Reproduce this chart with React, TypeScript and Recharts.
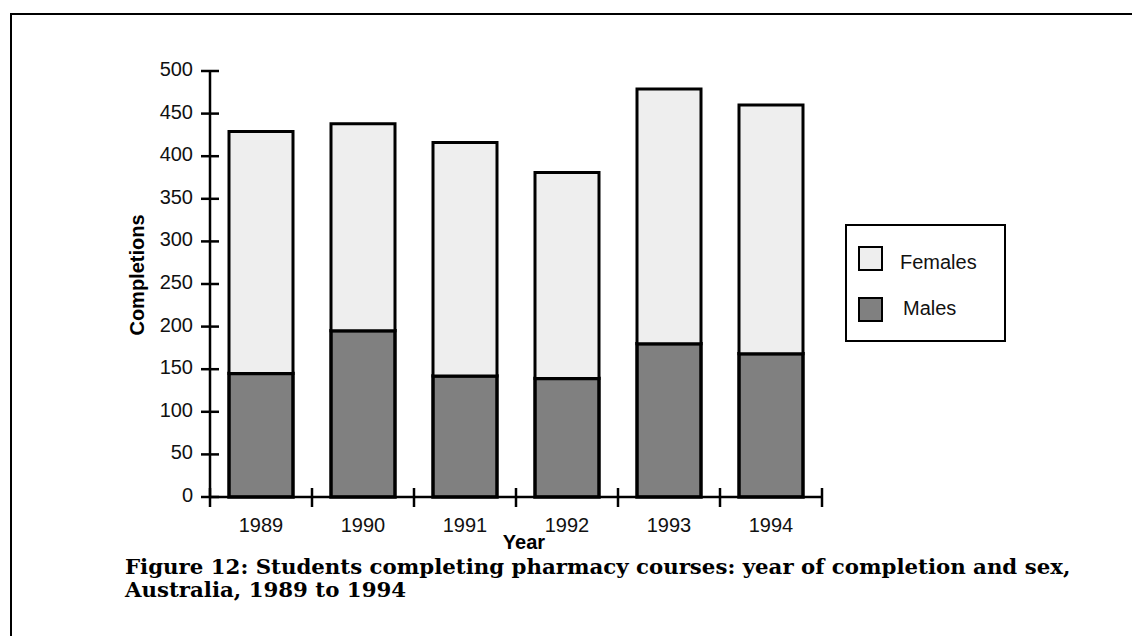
import React from 'react';
import { BarChart, Bar, XAxis, YAxis, Legend } from 'recharts';

const years = ['1989', '1990', '1991', '1992', '1993', '1994'];
const males = [145, 195, 142, 139, 180, 168];
const females = [284, 243, 274, 242, 299, 292];
const yTicks = [0, 50, 100, 150, 200, 250, 300, 350, 400, 450, 500];

const data = years.map((year, i) => ({ year, Males: males[i], Females: females[i] }));

const FONT = '"Liberation Sans", Arial, sans-serif';
const PLOT_LEFT = 210;
const PLOT_RIGHT = 822;
const HALF_BAND = (PLOT_RIGHT - PLOT_LEFT) / years.length / 2;

const YTick = (props: any) => {
  const { x, y, payload } = props;
  const axisX = x + 17;
  return (
    <g>
      <line x1={axisX - 9} x2={axisX + 9} y1={y} y2={y} stroke="#000" strokeWidth={2.5} />
      <text x={x} y={y + 5} textAnchor="end" fontFamily={FONT} fontSize={20} fill="#111">
        {payload.value}
      </text>
    </g>
  );
};

const XTick = (props: any) => {
  const { x, y, payload, index } = props;
  const axisY = y - 8;
  const last = index === years.length - 1;
  return (
    <g>
      <line x1={x - HALF_BAND} x2={x - HALF_BAND} y1={axisY - 9} y2={axisY + 10} stroke="#000" strokeWidth={2.5} />
      {last && (
        <line x1={x + HALF_BAND} x2={x + HALF_BAND} y1={axisY - 9} y2={axisY + 10} stroke="#000" strokeWidth={2.5} />
      )}
      <text x={x} y={axisY + 35} textAnchor="middle" fontFamily={FONT} fontSize={20} fill="#111">
        {payload.value}
      </text>
    </g>
  );
};

const LegendBox = () => (
  <div
    style={{
      width: 161,
      height: 118,
      border: '2px solid #000',
      boxSizing: 'border-box',
      background: '#fff',
      position: 'relative',
      fontFamily: FONT,
      fontSize: 20,
      color: '#111',
    }}
  >
    <div style={{ position: 'absolute', left: 11, top: 20, width: 25, height: 25, boxSizing: 'border-box', border: '2.5px solid #000', background: '#eeeeee' }} />
    <div style={{ position: 'absolute', left: 53, top: 25, lineHeight: '23px' }}>Females</div>
    <div style={{ position: 'absolute', left: 11, top: 71, width: 25, height: 25, boxSizing: 'border-box', border: '2.5px solid #000', background: '#808080' }} />
    <div style={{ position: 'absolute', left: 56, top: 71, lineHeight: '23px' }}>Males</div>
  </div>
);

export default function App() {
  return (
    <div style={{ position: 'absolute', left: 0, top: 0, width: 1132, height: 636, background: '#fff', overflow: 'hidden' }}>
      <div style={{ position: 'absolute', left: 10, top: 13, width: 1140, height: 640, borderTop: '2.5px solid #000', borderLeft: '2px solid #000' }} />
      <BarChart
        width={1132}
        height={636}
        data={data}
        margin={{ top: 71, right: 1132 - PLOT_RIGHT, left: 0, bottom: 83 }}
        barCategoryGap={19}
      >
        <XAxis
          dataKey="year"
          height={56}
          stroke="#000"
          strokeWidth={2.5}
          tickLine={false}
          tickSize={8}
          tickMargin={0}
          tick={<XTick />}
          interval={0}
          label={{ value: 'Year', position: 'insideBottom', offset: 4, fontFamily: FONT, fontSize: 20, fontWeight: 'bold', fill: '#000', dx: 8 }}
        />
        <YAxis
          width={PLOT_LEFT}
          domain={[0, 500]}
          ticks={yTicks}
          interval={0}
          stroke="#000"
          strokeWidth={2.5}
          tickLine={false}
          tickSize={8}
          tickMargin={9}
          tick={<YTick />}
          label={{ value: 'Completions', angle: -90, position: 'center', dx: 32, dy: -9, fontFamily: FONT, fontSize: 20, fontWeight: 'bold', fill: '#000' }}
        />
        <Legend
          layout="horizontal"
          align="center"
          verticalAlign="middle"
          content={<LegendBox />}
          wrapperStyle={{ position: 'absolute', left: 845, top: 224, width: 161, height: 118 }}
        />
        <Bar dataKey="Males" stackId="a" fill="#808080" stroke="#000" strokeWidth={3.5} isAnimationActive={false} />
        <Bar dataKey="Females" stackId="a" fill="#eeeeee" stroke="#000" strokeWidth={3} isAnimationActive={false} />
      </BarChart>
      <div
        style={{
          position: 'absolute',
          left: 125,
          top: 555,
          fontFamily: '"DejaVu Serif", serif',
          fontWeight: 'bold',
          fontSize: 21.3,
          lineHeight: '23px',
          color: '#000',
          whiteSpace: 'nowrap',
        }}
      >
        Figure 12: Students completing pharmacy courses: year of completion and sex,
        <br />
        Australia, 1989 to 1994
      </div>
    </div>
  );
}
